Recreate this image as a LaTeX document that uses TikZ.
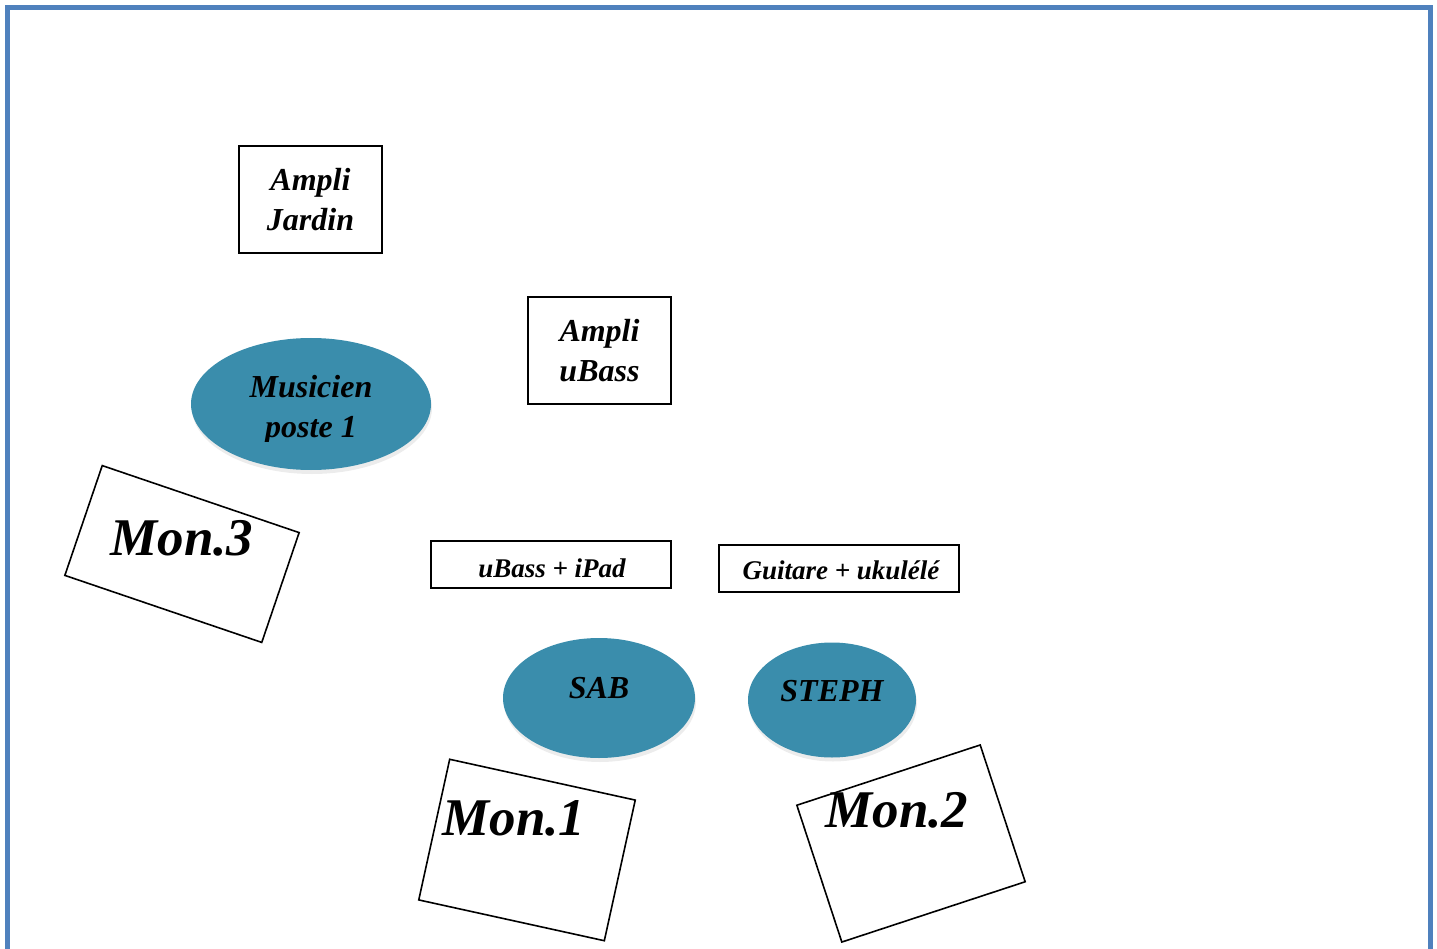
\documentclass[tikz,border=0pt]{standalone}
\usepackage{fontspec}
\setmainfont{Liberation Serif}[
  BoldFont={Liberation Serif Bold},
  ItalicFont={Liberation Serif Italic},
  BoldItalicFont={Liberation Serif Bold Italic}]
\usetikzlibrary{shapes.geometric,shadows}

\definecolor{cadre}{RGB}{79,129,189}
\definecolor{tapis}{RGB}{58,141,172}

\tikzset{
  boite/.style={draw,line width=1.6pt,rectangle,inner sep=0pt},
  musicien/.style={ellipse,fill=tapis,inner sep=0pt,
    drop shadow={opacity=0.15,shadow xshift=1pt,shadow yshift=-4pt}},
  retour/.style={draw,line width=1.6pt,rectangle,inner sep=0pt,
    minimum height=144pt},
  txt/.style={font=\fontsize{32}{40}\selectfont\bfseries\itshape,
    align=center,inner sep=0pt},
  petit/.style={font=\fontsize{27}{30}\selectfont\bfseries\itshape,inner sep=0pt},
  gros/.style={font=\fontsize{53}{60}\selectfont\bfseries\itshape,inner sep=0pt}
}

\begin{document}
\begin{tikzpicture}[x=1pt,y=-1pt]
  \useasboundingbox (0,0) rectangle (1437,949);
  % cadre de la scene
  \draw[cadre,line width=5pt]
    (7,990) -- (7,7.5) -- (1430.5,7.5) -- (1430.5,990);

  % amplis
  \node[boite,minimum width=143pt,minimum height=107pt,txt]
    (ampliJardin) at (310.5,199.5) {Ampli\\Jardin};
  \node[boite,minimum width=143pt,minimum height=107pt,txt]
    (ampliUbass) at (599.5,350.5) {Ampli\\uBass};

  % musiciens
  \node[musicien,minimum width=240pt,minimum height=132pt]
    (poste1) at (311,404) {};
  \begin{scope}
    \clip (180,340) rectangle (440,441);
    \node[txt] (poste1Txt) at (311,410) {Musicien\\poste 1};
  \end{scope}
  \node[musicien,minimum width=192pt,minimum height=120pt]
    (sab) at (599,698) {};
  \node[txt] (sabTxt) at ([yshift=10pt]sab.center) {SAB};
  \node[musicien,minimum width=168pt,minimum height=115pt]
    (steph) at (832,700) {};
  \node[txt] (stephTxt) at ([yshift=9pt]steph.center) {STEPH};

  % instruments
  \node[boite,minimum width=240pt,minimum height=47pt]
    (ubassIpad) at (551,564.5) {};
  \node[petit] (ubassIpadTxt) at (552,568) {uBass + iPad};
  \node[boite,minimum width=240pt,minimum height=47pt]
    (guitare) at (839,568.5) {};
  \node[petit] (guitareTxt) at (841,570) {Guitare + ukulélé};

  % retours
  \node[retour,minimum width=208pt,minimum height=116pt,rotate=-18.8]
    (mon3) at (182,554) {};
  \node[gros] (mon3Txt) at (182,538) {Mon.3};
  \node[retour,minimum width=190pt,rotate=-12.4]
    (mon1) at (527,850) {};
  \node[gros] (mon1Txt) at (514,818) {Mon.1};
  \node[retour,minimum width=193pt,rotate=18.2]
    (mon2) at (911,843.5) {};
  \node[gros] (mon2Txt) at (897,810) {Mon.2};
\end{tikzpicture}
\end{document}
